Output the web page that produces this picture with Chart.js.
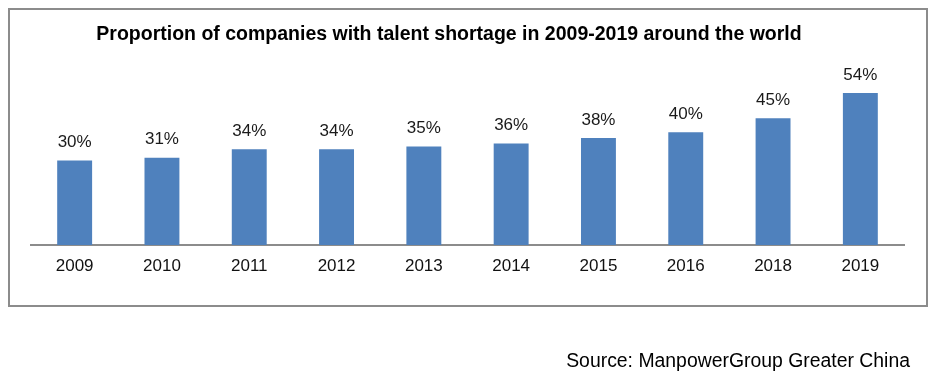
<!DOCTYPE html>
<html>
<head>
<meta charset="utf-8">
<script src="https://cdn.jsdelivr.net/npm/chart.js@4.4.0/dist/chart.umd.min.js"></script>
<style>
  html, body { margin: 0; padding: 0; background: #ffffff; }
  #wrap { width: 937px; height: 381px; }
</style>
</head>
<body>
<div id="wrap"><canvas id="c" width="937" height="381"></canvas></div>
<script>
const categories = ["2009", "2010", "2011", "2012", "2013", "2014", "2015", "2016", "2018", "2019"];
const shortagePct = [30, 31, 34, 34, 35, 36, 38, 40, 45, 54];
const titleText = "Proportion of companies with talent shortage in 2009-2019 around the world";
const sourceText = "Source: ManpowerGroup Greater China";

const decorPlugin = {
  id: 'decor',
  beforeDraw(chart) {
    const ctx = chart.ctx;
    ctx.save();
    ctx.fillStyle = '#ffffff';
    ctx.fillRect(0, 0, chart.width, chart.height);
    ctx.strokeStyle = '#8c8c8c';
    ctx.lineWidth = 2;
    ctx.strokeRect(9, 9, 918, 297);
    ctx.fillStyle = '#000000';
    ctx.font = 'bold 19.5px "Liberation Sans", Arial, sans-serif';
    ctx.textAlign = 'center';
    ctx.textBaseline = 'middle';
    ctx.fillText(titleText, 449, 35);
    ctx.font = '19.4px "Liberation Sans", Arial, sans-serif';
    ctx.textAlign = 'right';
    ctx.fillText(sourceText, 910, 362);
    ctx.restore();
  },
  afterDatasetsDraw(chart) {
    const ctx = chart.ctx;
    const meta = chart.getDatasetMeta(0);
    ctx.save();
    ctx.fillStyle = '#1a1a1a';
    ctx.font = '17px "Liberation Sans", Arial, sans-serif';
    ctx.textAlign = 'center';
    ctx.textBaseline = 'middle';
    meta.data.forEach((bar, i) => {
      ctx.fillText(shortagePct[i] + '%', bar.x, bar.y - 18);
    });
    ctx.restore();
  }
};

new Chart(document.getElementById('c'), {
  type: 'bar',
  data: {
    labels: categories,
    datasets: [{
      data: shortagePct,
      backgroundColor: '#4f81bd',
      borderWidth: 0,
      barPercentage: 0.4,
      categoryPercentage: 1.0
    }]
  },
  options: {
    responsive: false,
    animation: false,
    events: [],
    layout: { padding: { left: 31, right: 33, top: 76, bottom: 96 } },
    plugins: { legend: { display: false }, title: { display: false }, tooltip: { enabled: false } },
    scales: {
      x: {
        grid: { display: false, drawTicks: false },
        border: { display: true, color: '#8c8c8c', width: 2 },
        ticks: { color: '#111111', font: { size: 17, family: '"Liberation Sans", Arial, sans-serif' }, padding: 11, maxRotation: 0 },
        afterFit(scale) { scale.height = 40; }
      },
      y: {
        display: false,
        min: 0,
        max: 60
      }
    }
  },
  plugins: [decorPlugin]
});
</script>
</body>
</html>
